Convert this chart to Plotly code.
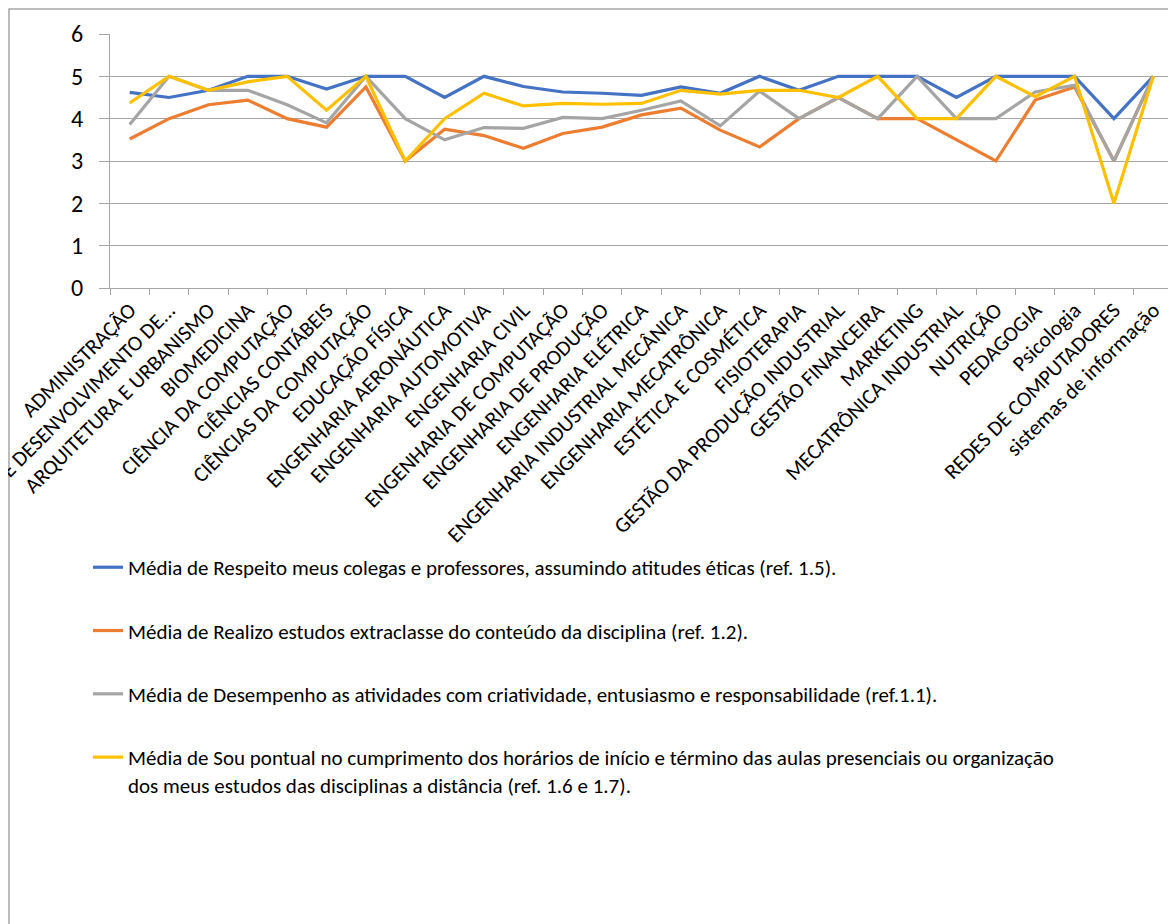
import plotly.graph_objects as go

cursos = [
  'ADMINISTRAÇÃO', 'ANÁLISE E DESENVOLVIMENTO DE...', 'ARQUITETURA E URBANISMO',
  'BIOMEDICINA', 'CIÊNCIA DA COMPUTAÇÃO', 'CIÊNCIAS CONTÁBEIS',
  'CIÊNCIAS DA COMPUTAÇÃO', 'EDUCAÇÃO FÍSICA', 'ENGENHARIA AERONÁUTICA',
  'ENGENHARIA AUTOMOTIVA', 'ENGENHARIA CIVIL', 'ENGENHARIA DE COMPUTAÇÃO',
  'ENGENHARIA DE PRODUÇÃO', 'ENGENHARIA ELÉTRICA', 'ENGENHARIA INDUSTRIAL MECÂNICA',
  'ENGENHARIA MECATRÔNICA', 'ESTÉTICA E COSMÉTICA', 'FISIOTERAPIA',
  'GESTÃO DA PRODUÇÃO INDUSTRIAL', 'GESTÃO FINANCEIRA', 'MARKETING',
  'MECATRÔNICA INDUSTRIAL', 'NUTRIÇÃO', 'PEDAGOGIA', 'Psicologia',
  'REDES DE COMPUTADORES', 'sistemas de informação'
]

respeito = [4.62, 4.5, 4.67, 5, 5, 4.7, 5, 5, 4.5, 5, 4.76, 4.63, 4.6, 4.55,
            4.75, 4.6, 5, 4.67, 5, 5, 5, 4.5, 5, 5, 5, 4, 5]
extraclasse = [3.52, 4, 4.33, 4.44, 4, 3.8, 4.75, 3, 3.75, 3.6, 3.3, 3.65, 3.8, 4.09,
               4.25, 3.73, 3.33, 4, 4.5, 4, 4, 3.5, 3, 4.44, 4.75, 3, 5]
desempenho = [3.86, 5, 4.67, 4.67, 4.33, 3.9, 5, 4, 3.5, 3.79, 3.77, 4.03, 4, 4.2,
              4.42, 3.83, 4.65, 4, 4.5, 4, 5, 4, 4, 4.63, 4.79, 3, 5]
pontual = [4.37, 5, 4.67, 4.87, 5, 4.2, 5, 3, 4, 4.6, 4.3, 4.36, 4.34, 4.36,
           4.67, 4.58, 4.67, 4.67, 4.5, 5, 4, 4, 5, 4.52, 5, 2, 5]

nomes = [
  'Média de Respeito meus colegas e professores, assumindo atitudes éticas (ref. 1.5).',
  'Média de Realizo estudos extraclasse do conteúdo da disciplina (ref. 1.2).',
  'Média de Desempenho as atividades com criatividade, entusiasmo e responsabilidade (ref.1.1).',
  'Média de Sou pontual no cumprimento dos horários de início e término das aulas presenciais ou organização<br>dos meus estudos das disciplinas a distância (ref. 1.6 e 1.7).'
]
series = [respeito, extraclasse, desempenho, pontual]
cores = ['#4472C4', '#ED7D31', '#A5A5A5', '#FFC000']

FONT = 'Carlito, Calibri, Lato, sans-serif'
# page body adds an 8px offset, so the figure is 8px smaller than the window
W, H = 1168, 916
L, R, T, B = 102, 3, 26, 636
pw = W - L - R
ph = H - T - B

fig = go.Figure()
for i, (nome, vals, cor) in enumerate(zip(nomes, series, cores)):
  fig.add_trace(go.Scatter(
    x=cursos, y=vals, name=nome, mode='lines',
    line=dict(color=cor, width=3.2),
    legendgroup='g%d' % i
  ))

# chart border (only left and top edges are visible in the crop)
fig.add_shape(
  type='rect', xref='paper', yref='paper',
  x0=(1 - L) / pw, x1=(W + 40 - L) / pw,
  y0=(T + ph - (H + 40)) / ph, y1=(T + ph - 1) / ph,
  line=dict(color='#A6A6A6', width=1.5), fillcolor='rgba(0,0,0,0)', layer='below'
)

fig.update_layout(
  width=W, height=H,
  margin=dict(l=L, r=R, t=T, b=B, autoexpand=False),
  plot_bgcolor='white', paper_bgcolor='white',
  font=dict(family=FONT, color='#000000'),
  showlegend=True,
  legend=dict(
    x=(80 - L) / pw, xanchor='left',
    y=-1.02, yanchor='top',
    font=dict(family=FONT, size=21, color='#000000'),
    tracegroupgap=33, valign='top',
    bgcolor='rgba(0,0,0,0)'
  ),
  xaxis=dict(
    type='category', tickangle=-45, automargin=False,
    tickfont=dict(family=FONT, size=21.5, color='#000000'),
    showline=True, linecolor='#A6A6A6', linewidth=1,
    ticks='outside', ticklen=6, tickcolor='#A6A6A6',
    tickson='boundaries', showgrid=False,
    range=[-0.5, len(cursos) - 0.5]
  ),
  yaxis=dict(
    range=[0, 6], dtick=1, automargin=False,
    tickfont=dict(family=FONT, size=24, color='#000000'),
    showline=True, linecolor='#A6A6A6', linewidth=1,
    ticks='outside', ticklen=10, tickcolor='#A6A6A6',
    showgrid=True, gridcolor='#A6A6A6', gridwidth=1,
    zeroline=False, ticklabelstandoff=11
  )
)

fig.write_html('out.html')
